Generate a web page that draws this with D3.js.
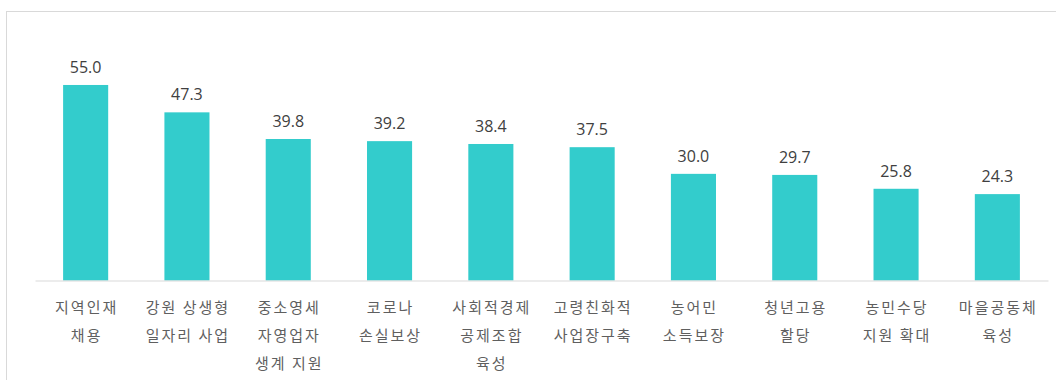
<!DOCTYPE html>
<html>
<head>
<meta charset="utf-8">
<script src="https://cdn.jsdelivr.net/npm/d3@7"></script>
<style>
  html, body { margin: 0; padding: 0; background: #fff; }
  svg { display: block; }
</style>
</head>
<body>
<svg id="chart" width="1056" height="380"></svg>
<script>
// Survey results: share of respondents (%) per policy item
const categories = [
  "지역인재 채용",
  "강원 상생형 일자리 사업",
  "중소영세 자영업자 생계 지원",
  "코로나 손실보상",
  "사회적경제 공제조합 육성",
  "고령친화적 사업장구축",
  "농어민 소득보장",
  "청년고용 할당",
  "농민수당 지원 확대",
  "마을공동체 육성"
];
// Line breaks for each category label
const labelLines = [
  ["지역인재", "채용"],
  ["강원 상생형", "일자리 사업"],
  ["중소영세", "자영업자", "생계 지원"],
  ["코로나", "손실보상"],
  ["사회적경제", "공제조합", "육성"],
  ["고령친화적", "사업장구축"],
  ["농어민", "소득보장"],
  ["청년고용", "할당"],
  ["농민수당", "지원 확대"],
  ["마을공동체", "육성"]
];
const values = [55.0, 47.3, 39.8, 39.2, 38.4, 37.5, 30.0, 29.7, 25.8, 24.3];

const svg = d3.select("#chart");
const font = "'Noto Sans CJK KR', 'Noto Sans', sans-serif";
const numFont = "'Open Sans', 'Noto Sans', sans-serif";

// Outer frame (top and left edges visible)
svg.append("rect")
  .attr("x", 6.5).attr("y", 11.5)
  .attr("width", 1060).attr("height", 380)
  .attr("fill", "none")
  .attr("stroke", "#d9d9d9")
  .attr("stroke-width", 1);

const x = d3.scaleBand()
  .domain(categories)
  .range([35, 1048])
  .paddingInner(0.555)
  .paddingOuter(0.2775);

const y = d3.scaleLinear()
  .domain([0, 60])
  .range([280.5, 67.2]);

// Bars
svg.append("g").selectAll("rect")
  .data(values)
  .join("rect")
  .attr("x", (d, i) => x(categories[i]))
  .attr("y", d => y(d))
  .attr("width", x.bandwidth())
  .attr("height", d => y(0) - y(d))
  .attr("fill", "#33cccc");

// Baseline axis
const axis = d3.axisBottom(x).tickSize(0).tickFormat("");
const axisG = svg.append("g")
  .attr("transform", `translate(0,${y(0)})`)
  .call(axis);
axisG.select(".domain").attr("stroke", "#d9d9d9").attr("stroke-width", 1);

// Value labels
svg.append("g").selectAll("text")
  .data(values)
  .join("text")
  .attr("x", (d, i) => x(categories[i]) + x.bandwidth() / 2)
  .attr("y", d => y(d) - 12)
  .attr("text-anchor", "middle")
  .attr("font-family", numFont)
  .attr("font-size", 16)
  .attr("fill", "#404040")
  .text(d => d.toFixed(1));

// Category labels
const lab = svg.append("g").selectAll("text")
  .data(categories)
  .join("text")
  .attr("x", d => x(d) + x.bandwidth() / 2)
  .attr("y", 313)
  .attr("text-anchor", "middle")
  .attr("font-family", font)
  .attr("font-size", 15)
  .attr("letter-spacing", 2)
  .attr("fill", "#5f5f5f");

lab.each(function(d, i) {
  const cx = x(d) + x.bandwidth() / 2 + 1;
  d3.select(this).selectAll("tspan")
    .data(labelLines[i])
    .join("tspan")
    .attr("x", cx)
    .attr("dy", (t, j) => j === 0 ? 0 : 28)
    .text(t => t);
});
</script>
</body>
</html>
